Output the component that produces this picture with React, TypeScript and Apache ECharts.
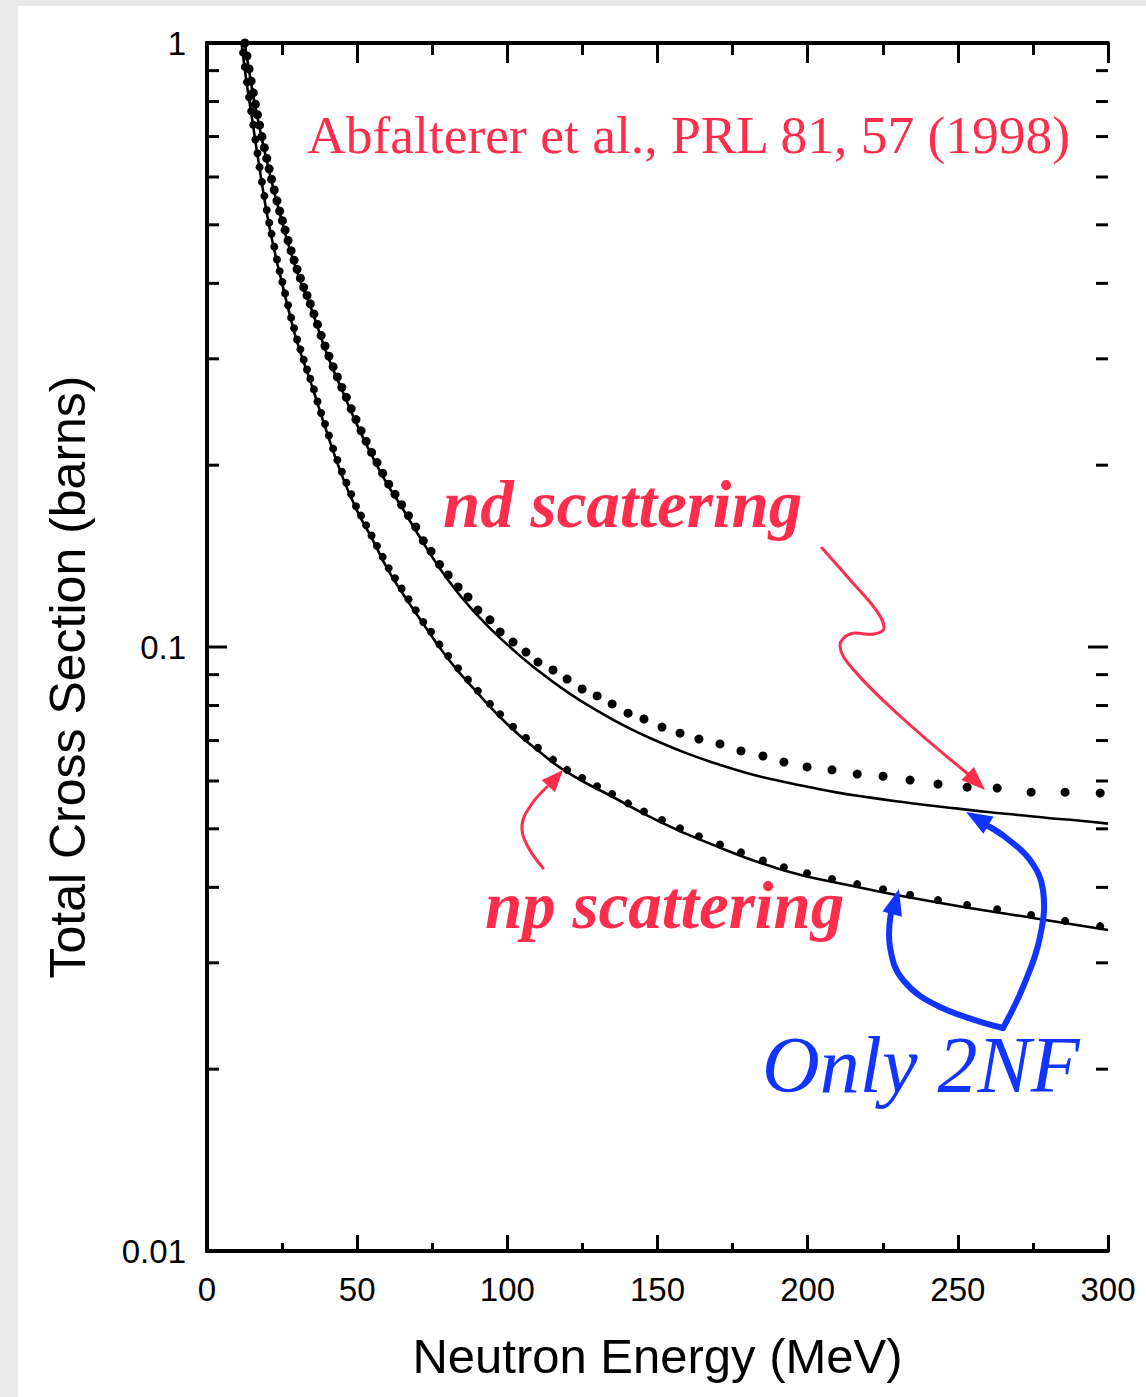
import React, { useEffect, useRef } from 'react';
import * as echarts from 'echarts';

// ---- Data ----
// Neutron energy bins (MeV) shared by the np and nd measurements
const energyBins = [
  11.4, 12.0, 12.6, 13.3, 14.0, 14.7, 15.4, 16.1, 16.8, 17.5, 18.3, 19.1, 19.9, 20.7, 21.5, 22.4,
  23.3, 24.2, 25.1, 26.0, 27.0, 28.0, 29.0, 30.0, 31.1, 32.2, 33.3, 34.4, 35.6, 36.8, 38.0, 39.3,
  40.6, 42.0, 43.4, 44.9, 46.4, 48.0, 49.6, 51.3, 53.0, 54.8, 56.6, 58.5, 60.5, 62.6, 64.8, 67.1,
  69.5, 72.0, 74.6, 77.4, 80.3, 83.6, 86.9, 90.2, 94.2, 97.6, 101.9, 106.2, 110.2, 115.2, 119.9,
  124.9, 129.9, 134.9, 140.2, 145.5, 151.5, 157.5, 163.8, 170.8, 177.8, 185.1, 192.1, 199.8, 208.1,
  216.5, 225.1, 234.1, 243.4, 253.1, 263.1, 274.4, 285.7, 297.4,
];
// np measured total cross section (barns)
const npMeasured = [
  1.02, 0.964, 0.913, 0.861, 0.813, 0.771, 0.732, 0.692, 0.657, 0.623, 0.589, 0.558, 0.529, 0.504, 0.483, 0.46,
  0.438, 0.419, 0.402, 0.385, 0.368, 0.351, 0.337, 0.323, 0.311, 0.299, 0.288, 0.278, 0.267, 0.255, 0.244, 0.234,
  0.224, 0.213, 0.204, 0.195, 0.187, 0.179, 0.171, 0.165, 0.159, 0.153, 0.147, 0.141, 0.135, 0.13, 0.125, 0.12,
  0.115, 0.11, 0.106, 0.101, 0.0966, 0.0922, 0.0883, 0.0846, 0.0805, 0.0774, 0.0738, 0.0707, 0.0681, 0.0651, 0.0626,
  0.0607, 0.0588, 0.0571, 0.0551, 0.0534, 0.0517, 0.0501, 0.0486, 0.0471, 0.0457, 0.0443, 0.0432, 0.0422, 0.0413,
  0.0405, 0.0397, 0.0389, 0.0381, 0.0374, 0.0368, 0.036, 0.0352, 0.0345,
];
// nd measured total cross section (barns)
const ndMeasured = [
  1.1, 1.05, 1.0, 0.952, 0.906, 0.865, 0.827, 0.792, 0.761, 0.731, 0.7, 0.671, 0.644, 0.619, 0.595, 0.571,
  0.548, 0.527, 0.508, 0.49, 0.471, 0.453, 0.437, 0.422, 0.408, 0.394, 0.382, 0.37, 0.356, 0.342, 0.328, 0.315,
  0.303, 0.291, 0.28, 0.269, 0.259, 0.248, 0.238, 0.228, 0.219, 0.21, 0.202, 0.194, 0.186, 0.179, 0.172, 0.165,
  0.158, 0.15, 0.144, 0.137, 0.1316, 0.1257, 0.121, 0.1151, 0.1109, 0.1059, 0.1019, 0.0981, 0.0944, 0.0916, 0.0885,
  0.0852, 0.083, 0.0805, 0.0777, 0.076, 0.0737, 0.072, 0.0704, 0.0691, 0.0673, 0.066, 0.0645, 0.0633, 0.0626,
  0.0616, 0.0611, 0.0602, 0.0593, 0.0586, 0.0584, 0.0575, 0.0575, 0.0573,
];
// Theory (only 2NF), np
const npTheoryE = [11.3, 13, 15, 17.5, 20, 22.5, 25, 27.5, 30, 35, 40, 45, 50, 55, 60, 65, 70, 80, 90, 100, 110, 120, 135, 150, 165, 190, 215, 235, 255, 275, 300];
const npTheory = [1.02, 0.874, 0.75, 0.62, 0.52, 0.452, 0.4, 0.356, 0.32, 0.27, 0.226, 0.192, 0.168, 0.151, 0.135, 0.123, 0.113, 0.096, 0.084, 0.0745, 0.0675, 0.062, 0.0565, 0.0516, 0.0478, 0.043, 0.0402, 0.0384, 0.0369, 0.0356, 0.034];
// Theory (only 2NF), nd
const ndTheoryE = [12.3, 15, 17, 20, 25, 30, 35, 40, 45, 50, 55, 60, 65, 70, 80, 90, 100, 110, 120, 130, 140, 150, 160, 170, 180, 190, 200, 210, 220, 230, 240, 250, 260, 270, 280, 290, 300];
const ndTheory = [1.02, 0.84, 0.745, 0.635, 0.505, 0.418, 0.36, 0.305, 0.266, 0.233, 0.207, 0.186, 0.17, 0.1544, 0.1296, 0.1129, 0.1009, 0.0916, 0.0842, 0.0784, 0.0736, 0.0698, 0.0666, 0.064, 0.0618, 0.0601, 0.0587, 0.0574, 0.0564, 0.0555, 0.0547, 0.054, 0.0533, 0.0527, 0.0521, 0.0516, 0.051];
// Ticks on the cross-section axis (log scale)
const yMajorTicks = [0.01, 0.1, 1];
const yMinorTicks = [0.02, 0.03, 0.04, 0.05, 0.06, 0.07, 0.08, 0.09, 0.2, 0.3, 0.4, 0.5, 0.6, 0.7, 0.8, 0.9];

const RED = '#fe2d4b';
const BLUE = '#1234ff';
const SANS = "'Liberation Sans', Arial, Helvetica, sans-serif";
const SERIF = "'Liberation Serif', 'Times New Roman', serif";

function arrowHead(tip: number[], from: number[], len: number, half: number, color: string) {
  const dx = tip[0] - from[0];
  const dy = tip[1] - from[1];
  const n = Math.sqrt(dx * dx + dy * dy) || 1;
  const ux = dx / n, uy = dy / n;
  const bx = tip[0] - ux * len, by = tip[1] - uy * len;
  const px = -uy, py = ux;
  return {
    type: 'polygon',
    shape: { points: [[tip[0], tip[1]], [bx + px * half, by + py * half], [bx - px * half, by - py * half]] },
    style: { fill: color },
    z: 100,
  };
}

function curve(points: number[][], color: string, width: number) {
  return {
    type: 'polyline',
    shape: { points, smooth: 0.4 },
    style: { stroke: color, lineWidth: width, fill: null, lineCap: 'round', lineJoin: 'round' },
    z: 100,
  };
}

function label(text: string, x: number, y: number, size: number, color: string, italic: boolean, bold: boolean) {
  return {
    type: 'text',
    x,
    y,
    z: 100,
    style: {
      text,
      fill: color,
      fontFamily: SERIF,
      fontSize: size,
      fontStyle: italic ? 'italic' : 'normal',
      fontWeight: bold ? 'bold' : 'normal',
      align: 'left',
      verticalAlign: 'middle',
    },
  };
}

export default function App() {
  const ref = useRef<HTMLDivElement>(null);

  useEffect(() => {
    document.body.style.margin = '0';
    const chart = echarts.init(ref.current!, null, { renderer: 'svg' });

    const axisLine = { show: true, lineStyle: { color: '#000', width: 4 } };
    const tickStyle = { color: '#000', width: 3 };

    const option: any = {
      animation: false,
      backgroundColor: 'transparent',
      grid: { left: 207, right: 38, top: 43, bottom: 146, containLabel: false },
      xAxis: [
        {
          type: 'value',
          position: 'bottom',
          min: 0,
          max: 300,
          interval: 50,
          axisLine,
          axisTick: { show: true, inside: true, length: 16, lineStyle: tickStyle },
          minorTick: { show: true, splitNumber: 2, length: 8, lineStyle: tickStyle },
          splitLine: { show: false },
          minorSplitLine: { show: false },
          axisLabel: { color: '#000', fontFamily: SANS, fontSize: 33, margin: 22 },
          name: 'Neutron Energy (MeV)',
          nameLocation: 'middle',
          nameGap: 80,
          nameTextStyle: { color: '#000', fontFamily: SANS, fontSize: 49, verticalAlign: 'top' },
        },
        {
          type: 'value',
          position: 'top',
          min: 0,
          max: 300,
          interval: 50,
          axisLine,
          axisTick: { show: true, inside: true, length: 20, lineStyle: tickStyle },
          minorTick: { show: true, splitNumber: 2, length: 12, lineStyle: tickStyle },
          splitLine: { show: false },
          minorSplitLine: { show: false },
          axisLabel: { show: false },
        },
      ],
      yAxis: [
        {
          type: 'log',
          logBase: 10,
          position: 'left',
          min: 0.01,
          max: 1,
          axisLine,
          axisTick: { show: false },
          minorTick: { show: false },
          splitLine: { show: false },
          axisLabel: {
            color: '#000',
            fontFamily: SANS,
            fontSize: 33,
            margin: 21,
            formatter: (v: number) => (v >= 1 ? '1' : String(+v.toPrecision(3))),
          },
        },
        {
          type: 'log',
          logBase: 10,
          position: 'right',
          min: 0.01,
          max: 1,
          axisLine,
          axisTick: { show: false },
          minorTick: { show: false },
          splitLine: { show: false },
          axisLabel: { show: false },
        },
      ],
      series: [
        {
          name: 'np theory',
          type: 'line',
          xAxisIndex: 0,
          yAxisIndex: 0,
          smooth: 0.5,
          showSymbol: false,
          clip: true,
          lineStyle: { color: '#000', width: 2.6 },
          data: npTheoryE.map((e, i) => [e, npTheory[i]]),
          z: 3,
        },
        {
          name: 'nd theory',
          type: 'line',
          xAxisIndex: 0,
          yAxisIndex: 0,
          smooth: 0.5,
          showSymbol: false,
          clip: true,
          lineStyle: { color: '#000', width: 2.6 },
          data: ndTheoryE.map((e, i) => [e, ndTheory[i]]),
          z: 3,
        },
        {
          name: 'np data',
          type: 'scatter',
          xAxisIndex: 0,
          yAxisIndex: 0,
          symbol: 'circle',
          symbolSize: 8,
          clip: true,
          itemStyle: { color: '#000', opacity: 1 },
          data: energyBins.map((e, i) => [e, npMeasured[i]]),
          z: 4,
        },
        {
          name: 'nd data',
          type: 'scatter',
          xAxisIndex: 0,
          yAxisIndex: 0,
          symbol: 'circle',
          symbolSize: 9,
          clip: true,
          itemStyle: { color: '#000', opacity: 1 },
          data: energyBins.map((e, i) => [e, ndMeasured[i]]),
          z: 4,
        },
        {
          name: 'y ticks',
          type: 'custom',
          coordinateSystem: 'cartesian2d',
          xAxisIndex: 0,
          yAxisIndex: 0,
          silent: true,
          clip: false,
          data: yMajorTicks.map((v) => [0, v, 1]).concat(yMinorTicks.map((v) => [0, v, 0])),
          renderItem: (params: any, api: any) => {
            const v = api.value(1);
            const len = api.value(2) ? 20 : 12;
            const pL = api.coord([0, v]);
            const pR = api.coord([300, v]);
            const st = { stroke: '#000', lineWidth: 3 };
            return {
              type: 'group',
              children: [
                { type: 'line', shape: { x1: pL[0], y1: pL[1], x2: pL[0] + len, y2: pL[1] }, style: st },
                { type: 'line', shape: { x1: pR[0] - len, y1: pR[1], x2: pR[0], y2: pR[1] }, style: st },
              ],
            };
          },
          z: 5,
        },
      ],
      graphic: [
        {
          type: 'text',
          x: 68,
          y: 677,
          rotation: Math.PI / 2,
          z: 100,
          style: {
            text: 'Total Cross Section (barns)',
            fill: '#000',
            fontFamily: SANS,
            fontSize: 50,
            align: 'center',
            verticalAlign: 'middle',
          },
        },
        label('Abfalterer et al., PRL 81, 57 (1998)', 307, 135, 53.5, RED, false, false),
        label('nd scattering', 443, 504, 67, RED, true, true),
        label('np scattering', 485, 905, 67, RED, true, true),
        label('Only 2NF', 762, 1065, 80, BLUE, true, false),
        // red arrow towards nd data
        curve([[822, 548], [852, 582], [876, 610], [884, 628], [874, 634], [850, 634], [840, 646], [852, 668], [900, 716], [968, 774]], RED, 3),
        arrowHead([985, 790], [962, 768], 24, 9, RED),
        // red arrow towards np data
        curve([[543, 868], [527, 845], [522, 825], [531, 805], [547, 787]], RED, 3),
        arrowHead([563, 770], [545, 790], 22, 9, RED),
        // blue arrows towards the theory curves
        curve([[1003, 1028], [940, 1007], [903, 980], [890, 947], [891, 912]], BLUE, 6),
        arrowHead([899, 889], [892, 915], 26, 10, BLUE),
        curve([[1003, 1028], [1023, 987], [1040, 937], [1043, 890], [1030, 860], [1005, 837], [988, 826]], BLUE, 6),
        arrowHead([966, 812], [990, 826], 26, 10, BLUE),
      ],
    };

    chart.setOption(option);
    return () => chart.dispose();
  }, []);

  return (
    <div style={{ position: 'relative', width: 1146, height: 1397, background: '#e9e9e9', overflow: 'hidden' }}>
      <div style={{ position: 'absolute', left: 18, top: 6, right: 0, bottom: 0, background: '#ffffff' }} />
      <div ref={ref} style={{ position: 'absolute', left: 0, top: 0, width: 1146, height: 1397 }} />
    </div>
  );
}
